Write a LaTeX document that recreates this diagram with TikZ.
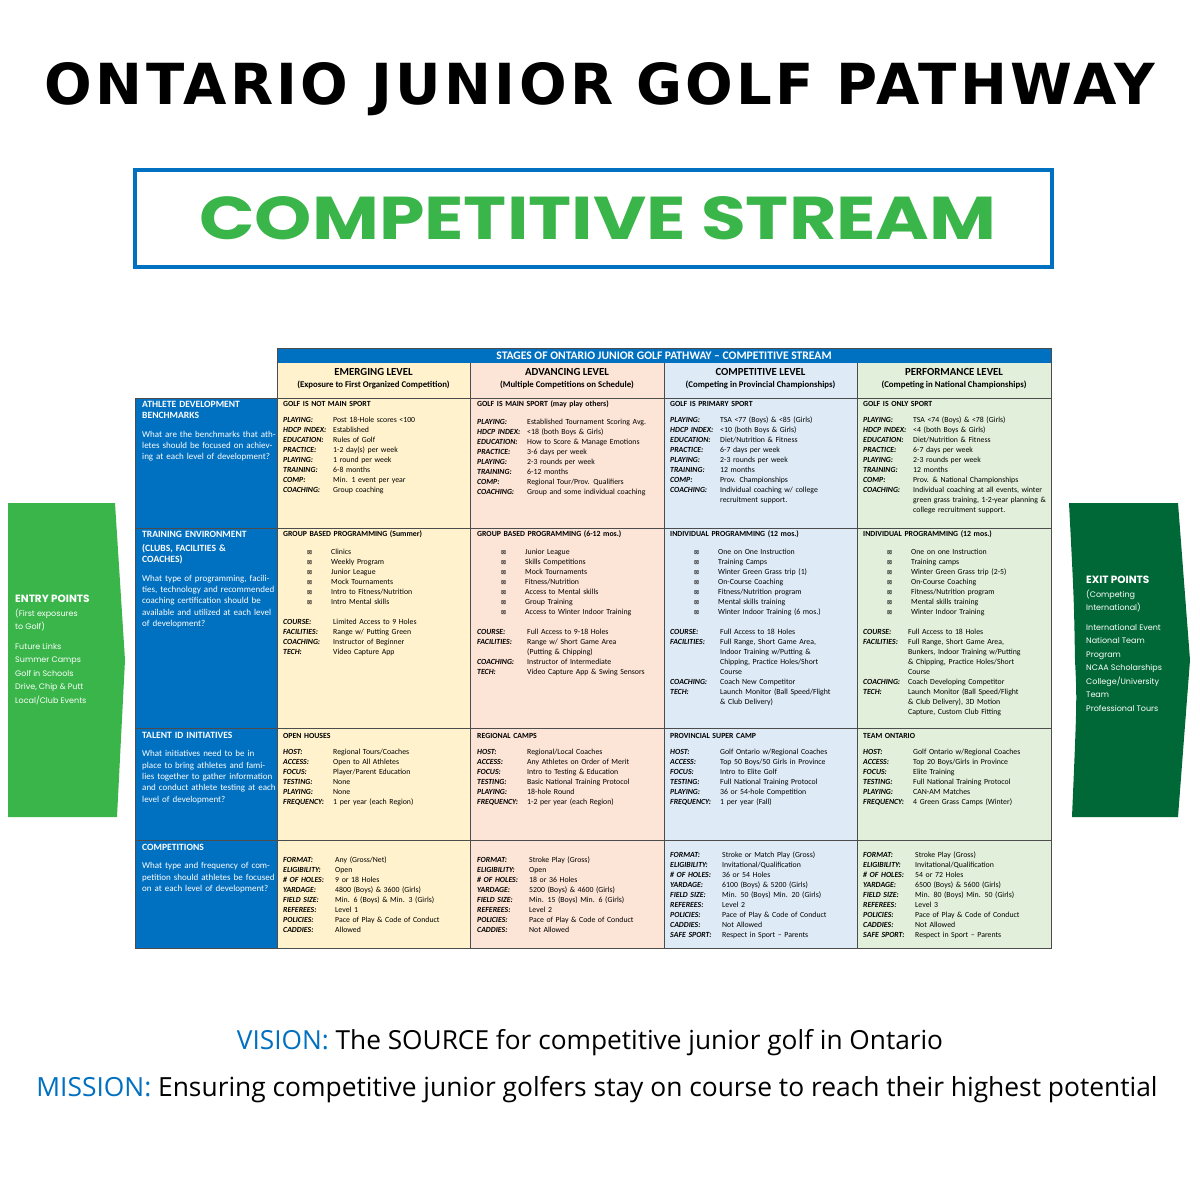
\documentclass[tikz,border=0pt]{standalone}
\usepackage{fontspec}
\usepackage{array}
\setmainfont{Carlito}
\newfontfamily\gothic{Poppins}
\newfontfamily\headfont[LetterSpace=6]{DejaVu Sans}
\newfontfamily\symfont{DejaVu Sans}
\newfontfamily\plainfont{Open Sans}
\definecolor{ogblue}{RGB}{0,112,192}
\definecolor{oggreen}{RGB}{57,181,74}
\definecolor{ogdark}{RGB}{0,104,55}
\definecolor{cyellow}{RGB}{255,242,204}
\definecolor{cpink}{RGB}{252,228,214}
\definecolor{cblue}{RGB}{222,235,247}
\definecolor{cgreen}{RGB}{226,239,218}
\newcommand{\lbl}[1]{\textbf{\textit{#1}}}
\newcommand{\bx}{{\symfont\fontsize{6}{6}\selectfont ⊠}}
\newenvironment{facts}[1][50pt]{\renewcommand\arraystretch{1}\begin{tabular}{@{}>{\raggedright}p{#1}@{}>{\raggedright\arraybackslash}p{134pt}@{}}}{\end{tabular}}
\newenvironment{ticks}{\renewcommand\arraystretch{1}\begin{tabular}{@{\hspace{24pt}}p{24pt}@{}l@{}}}{\end{tabular}}
\begin{document}
\begin{tikzpicture}[x=1pt,y=-1pt,
cell/.style={anchor=north west,inner sep=0,align=left,text width=188pt,font=\fontsize{7.8}{10}\selectfont},
side/.style={anchor=north west,inner sep=0,align=left,text width=134pt,text=white,font=\fontsize{9}{11.3}\selectfont},
level/.style={align=center,inner sep=0,font=\bfseries\fontsize{10.8}{12}\selectfont},
sub/.style={align=center,inner sep=0,font=\bfseries\fontsize{8.8}{10}\selectfont},
grid/.style={draw=black!70,line width=0.6pt},
pointtext/.style={anchor=north west,inner sep=0,align=left,text=white,font=\gothic\fontsize{8}{13.5}\selectfont},
]
\useasboundingbox[fill=white](0,0) rectangle (1200,1200);
%title
\node[inner sep=0](title)at(600,89){\resizebox{1110pt}{42pt}{\headfont\bfseries ONTARIO JUNIOR GOLF PATHWAY}};
\draw[ogblue,line width=4pt](135,170) rectangle (1052,267);
\node[inner sep=0,text=oggreen](stream)at(598,218){\resizebox{797pt}{43pt}{\gothic\bfseries COMPETITIVE STREAM}};

%column fills
\fill[cyellow](277,363) rectangle (470,948);
\fill[cpink](470,363) rectangle (664,948);
\fill[cblue](664,363) rectangle (857,948);
\fill[cgreen](857,363) rectangle (1051,948);
\fill[ogblue](135,398) rectangle (277,948);
\fill[ogblue](277,348) rectangle (1051,363);
%grid
\foreach \x in {470,664,857} \draw[grid](\x,363)--(\x,948);
\foreach \y in {398,528,728,840} \draw[grid](135,\y)--(1051,\y);
\draw[grid](277,348) rectangle (1051,948);
\draw[grid](135,398)--(135,948)--(277,948);

%headers
\node[text=white,font=\bfseries\fontsize{11.6}{12}\selectfont](stages)at(664,356){STAGES OF ONTARIO JUNIOR GOLF PATHWAY -- COMPETITIVE STREAM};
\node[level](emerging)at(373.5,372){EMERGING LEVEL};
\node[sub]at(373.5,385){(Exposure to First Organized Competition)};
\node[level](advancing)at(567,372){ADVANCING LEVEL};
\node[sub]at(567,385){(Multiple Competitions on Schedule)};
\node[level](competitive)at(760.5,372){COMPETITIVE LEVEL};
\node[sub]at(760.5,385){(Competing in Provincial Championships)};
\node[level](performance)at(954,372){PERFORMANCE LEVEL};
\node[sub]at(954,385){(Competing in National Championships)};

%side column
\node[side](bench)at(142,401){{\bfseries\fontsize{9.6}{14}\selectfont ATHLETE DEVELOPMENT\\BENCHMARKS}\\[7pt]What are the benchmarks that athletes should be focused on achieving at each level of development?};
\node[side](environment)at(142,531){{\bfseries\fontsize{9.6}{14}\selectfont TRAINING ENVIRONMENT\\(CLUBS, FACILITIES \&\\COACHES)}\\[7pt]What type of programming, facilities, technology and recommended coaching certification should be available and utilized at each level of development?};
\node[side](talent)at(142,732){{\bfseries\fontsize{9.6}{14}\selectfont TALENT ID INITIATIVES}\\[7pt]What initiatives need to be in place to bring athletes and families together to gather information and conduct athlete testing at each level of development?};
\node[side](competitions)at(142,844){{\bfseries\fontsize{9.6}{14}\selectfont COMPETITIONS}\\[7pt]What type and frequency of competition should athletes be focused on at each level of development?};

%benchmarks
\node[cell](benchA)at(283,401){\textbf{GOLF IS NOT MAIN SPORT}\\[8pt]
\begin{facts}
\lbl{PLAYING:}&Post 18-Hole scores <100\\
\lbl{HDCP INDEX:}&Established\\
\lbl{EDUCATION:}&Rules of Golf\\
\lbl{PRACTICE:}&1-2 day(s) per week\\
\lbl{PLAYING:}&1 round per week\\
\lbl{TRAINING:}&6-8 months\\
\lbl{COMP:}&Min. 1 event per year\\
\lbl{COACHING:}&Group coaching
\end{facts}};
\node[cell](benchB)at(477,401){\textbf{GOLF IS MAIN SPORT (may play others)}\\[8pt]
\begin{facts}
\lbl{PLAYING:}&Established Tournament Scoring Avg.\\
\lbl{HDCP INDEX:}&<18 (both Boys \& Girls)\\
\lbl{EDUCATION:}&How to Score \& Manage Emotions\\
\lbl{PRACTICE:}&3-6 days per week\\
\lbl{PLAYING:}&2-3 rounds per week\\
\lbl{TRAINING:}&6-12 months\\
\lbl{COMP:}&Regional Tour/Prov. Qualifiers\\
\lbl{COACHING:}&Group and some individual coaching
\end{facts}};
\node[cell](benchC)at(670,401){\textbf{GOLF IS PRIMARY SPORT}\\[8pt]
\begin{facts}
\lbl{PLAYING:}&TSA <77 (Boys) \& <85 (Girls)\\
\lbl{HDCP INDEX:}&<10 (both Boys \& Girls)\\
\lbl{EDUCATION:}&Diet/Nutrition \& Fitness\\
\lbl{PRACTICE:}&6-7 days per week\\
\lbl{PLAYING:}&2-3 rounds per week\\
\lbl{TRAINING:}&12 months\\
\lbl{COMP:}&Prov. Championships\\
\lbl{COACHING:}&Individual coaching w/ college recruitment support.
\end{facts}};
\node[cell](benchD)at(863,401){\textbf{GOLF IS ONLY SPORT}\\[8pt]
\begin{facts}
\lbl{PLAYING:}&TSA <74 (Boys) \& <78 (Girls)\\
\lbl{HDCP INDEX:}&<4 (both Boys \& Girls)\\
\lbl{EDUCATION:}&Diet/Nutrition \& Fitness\\
\lbl{PRACTICE:}&6-7 days per week\\
\lbl{PLAYING:}&2-3 rounds per week\\
\lbl{TRAINING:}&12 months\\
\lbl{COMP:}&Prov. \& National Championships\\
\lbl{COACHING:}&Individual coaching at all events, winter green grass training, 1-2-year planning \& college recruitment support.
\end{facts}};

%training environment
\node[cell](envA)at(283,531){\textbf{GROUP BASED PROGRAMMING (Summer)}\\[8pt]
\begin{ticks}
\bx&Clinics\\ \bx&Weekly Program\\ \bx&Junior League\\ \bx&Mock Tournaments\\ \bx&Intro to Fitness/Nutrition\\ \bx&Intro Mental skills
\end{ticks}\\[9pt]
\begin{facts}
\lbl{COURSE:}&Limited Access to 9 Holes\\
\lbl{FACILITIES:}&Range w/ Putting Green\\
\lbl{COACHING:}&Instructor of Beginner\\
\lbl{TECH:}&Video Capture App
\end{facts}};
\node[cell](envB)at(477,531){\textbf{GROUP BASED PROGRAMMING (6-12 mos.)}\\[8pt]
\begin{ticks}
\bx&Junior League\\ \bx&Skills Competitions\\ \bx&Mock Tournaments\\ \bx&Fitness/Nutrition\\ \bx&Access to Mental skills\\ \bx&Group Training\\ \bx&Access to Winter Indoor Training
\end{ticks}\\[9pt]
\begin{facts}
\lbl{COURSE:}&Full Access to 9-18 Holes\\
\lbl{FACILITIES:}&Range w/ Short Game Area\\&(Putting \& Chipping)\\
\lbl{COACHING:}&Instructor of Intermediate\\
\lbl{TECH:}&Video Capture App \& Swing Sensors
\end{facts}};
\node[cell](envC)at(670,531){\textbf{INDIVIDUAL PROGRAMMING (12 mos.)}\\[8pt]
\begin{ticks}
\bx&One on One Instruction\\ \bx&Training Camps\\ \bx&Winter Green Grass trip (1)\\ \bx&On-Course Coaching\\ \bx&Fitness/Nutrition program\\ \bx&Mental skills training\\ \bx&Winter Indoor Training (6 mos.)
\end{ticks}\\[9pt]
\begin{facts}
\lbl{COURSE:}&Full Access to 18 Holes\\
\lbl{FACILITIES:}&Full Range, Short Game Area,\\&Indoor Training w/Putting \&\\&Chipping, Practice Holes/Short\\&Course\\
\lbl{COACHING:}&Coach New Competitor\\
\lbl{TECH:}&Launch Monitor (Ball Speed/Flight\\&\& Club Delivery)
\end{facts}};
\node[cell](envD)at(863,531){\textbf{INDIVIDUAL PROGRAMMING (12 mos.)}\\[8pt]
\begin{ticks}
\bx&One on one Instruction\\ \bx&Training camps\\ \bx&Winter Green Grass trip (2-5)\\ \bx&On-Course Coaching\\ \bx&Fitness/Nutrition program\\ \bx&Mental skills training\\ \bx&Winter Indoor Training
\end{ticks}\\[9pt]
\begin{facts}[45pt]
\lbl{COURSE:}&Full Access to 18 Holes\\
\lbl{FACILITIES:}&Full Range, Short Game Area,\\&Bunkers, Indoor Training w/Putting\\&\& Chipping, Practice Holes/Short\\&Course\\
\lbl{COACHING:}&Coach Developing Competitor\\
\lbl{TECH:}&Launch Monitor (Ball Speed/Flight\\&\& Club Delivery), 3D Motion\\&Capture, Custom Club Fitting
\end{facts}};

%talent id
\node[cell](talentA)at(283,733){\textbf{OPEN HOUSES}\\[8pt]
\begin{facts}
\lbl{HOST:}&Regional Tours/Coaches\\
\lbl{ACCESS:}&Open to All Athletes\\
\lbl{FOCUS:}&Player/Parent Education\\
\lbl{TESTING:}&None\\
\lbl{PLAYING:}&None\\
\lbl{FREQUENCY:}&1 per year (each Region)
\end{facts}};
\node[cell](talentB)at(477,733){\textbf{REGIONAL CAMPS}\\[8pt]
\begin{facts}
\lbl{HOST:}&Regional/Local Coaches\\
\lbl{ACCESS:}&Any Athletes on Order of Merit\\
\lbl{FOCUS:}&Intro to Testing \& Education\\
\lbl{TESTING:}&Basic National Training Protocol\\
\lbl{PLAYING:}&18-hole Round\\
\lbl{FREQUENCY:}&1-2 per year (each Region)
\end{facts}};
\node[cell](talentC)at(670,733){\textbf{PROVINCIAL SUPER CAMP}\\[8pt]
\begin{facts}
\lbl{HOST:}&Golf Ontario w/Regional Coaches\\
\lbl{ACCESS:}&Top 50 Boys/50 Girls in Province\\
\lbl{FOCUS:}&Intro to Elite Golf\\
\lbl{TESTING:}&Full National Training Protocol\\
\lbl{PLAYING:}&36 or 54-hole Competition\\
\lbl{FREQUENCY:}&1 per year (Fall)
\end{facts}};
\node[cell](talentD)at(863,733){\textbf{TEAM ONTARIO}\\[8pt]
\begin{facts}
\lbl{HOST:}&Golf Ontario w/Regional Coaches\\
\lbl{ACCESS:}&Top 20 Boys/Girls in Province\\
\lbl{FOCUS:}&Elite Training\\
\lbl{TESTING:}&Full National Training Protocol\\
\lbl{PLAYING:}&CAN-AM Matches\\
\lbl{FREQUENCY:}&4 Green Grass Camps (Winter)
\end{facts}};

%competitions
\node[cell](compA)at(283,855){\begin{facts}[52pt]
\lbl{FORMAT:}&Any (Gross/Net)\\
\lbl{ELIGIBILITY:}&Open\\
\lbl{\# OF HOLES:}&9 or 18 Holes\\
\lbl{YARDAGE:}&4800 (Boys) \& 3600 (Girls)\\
\lbl{FIELD SIZE:}&Min. 6 (Boys) \& Min. 3 (Girls)\\
\lbl{REFEREES:}&Level 1\\
\lbl{POLICIES:}&Pace of Play \& Code of Conduct\\
\lbl{CADDIES:}&Allowed
\end{facts}};
\node[cell](compB)at(477,855){\begin{facts}[52pt]
\lbl{FORMAT:}&Stroke Play (Gross)\\
\lbl{ELIGIBILITY:}&Open\\
\lbl{\# OF HOLES:}&18 or 36 Holes\\
\lbl{YARDAGE:}&5200 (Boys) \& 4600 (Girls)\\
\lbl{FIELD SIZE:}&Min. 15 (Boys) Min. 6 (Girls)\\
\lbl{REFEREES:}&Level 2\\
\lbl{POLICIES:}&Pace of Play \& Code of Conduct\\
\lbl{CADDIES:}&Not Allowed
\end{facts}};
\node[cell](compC)at(670,850){\begin{facts}[52pt]
\lbl{FORMAT:}&Stroke or Match Play (Gross)\\
\lbl{ELIGIBILITY:}&Invitational/Qualification\\
\lbl{\# OF HOLES:}&36 or 54 Holes\\
\lbl{YARDAGE:}&6100 (Boys) \& 5200 (Girls)\\
\lbl{FIELD SIZE:}&Min. 50 (Boys) Min. 20 (Girls)\\
\lbl{REFEREES:}&Level 2\\
\lbl{POLICIES:}&Pace of Play \& Code of Conduct\\
\lbl{CADDIES:}&Not Allowed\\
\lbl{SAFE SPORT:}&Respect in Sport -- Parents
\end{facts}};
\node[cell](compD)at(863,850){\begin{facts}[52pt]
\lbl{FORMAT:}&Stroke Play (Gross)\\
\lbl{ELIGIBILITY:}&Invitational/Qualification\\
\lbl{\# OF HOLES:}&54 or 72 Holes\\
\lbl{YARDAGE:}&6500 (Boys) \& 5600 (Girls)\\
\lbl{FIELD SIZE:}&Min. 80 (Boys) Min. 50 (Girls)\\
\lbl{REFEREES:}&Level 3\\
\lbl{POLICIES:}&Pace of Play \& Code of Conduct\\
\lbl{CADDIES:}&Not Allowed\\
\lbl{SAFE SPORT:}&Respect in Sport -- Parents
\end{facts}};

%entry and exit
\fill[oggreen](8,503)--(115,503)--(125,660)--(117,817)--(8,817)--cycle;
\node[pointtext](entry)at(15,595){{\bfseries\fontsize{10.5}{13.5}\selectfont ENTRY POINTS}\\(First exposures\\to Golf)\\[6pt]Future Links\\Summer Camps\\Golf in Schools\\Drive, Chip \& Putt\\Local/Club Events};
\fill[ogdark](1069,503)--(1178,503)--(1190,660)--(1178,817)--(1072,817)..controls(1077,700)..(1075,660)..controls(1074,600)..cycle;
\node[pointtext](exit)at(1086,576){{\bfseries\fontsize{10.5}{13.5}\selectfont EXIT POINTS}\\(Competing\\International)\\[6pt]International Event\\National Team\\Program\\NCAA Scholarships\\College/University\\Team\\Professional Tours};

%vision and mission
\node[inner sep=0](vision)at(590,1043){\resizebox{706pt}{!}{\plainfont\textcolor{ogblue}{VISION:} The SOURCE for competitive junior golf in Ontario}};
\node[inner sep=0](mission)at(597,1090){\resizebox{1121pt}{!}{\plainfont\textcolor{ogblue}{MISSION:} Ensuring competitive junior golfers stay on course to reach their highest potential}};
\end{tikzpicture}
\end{document}
